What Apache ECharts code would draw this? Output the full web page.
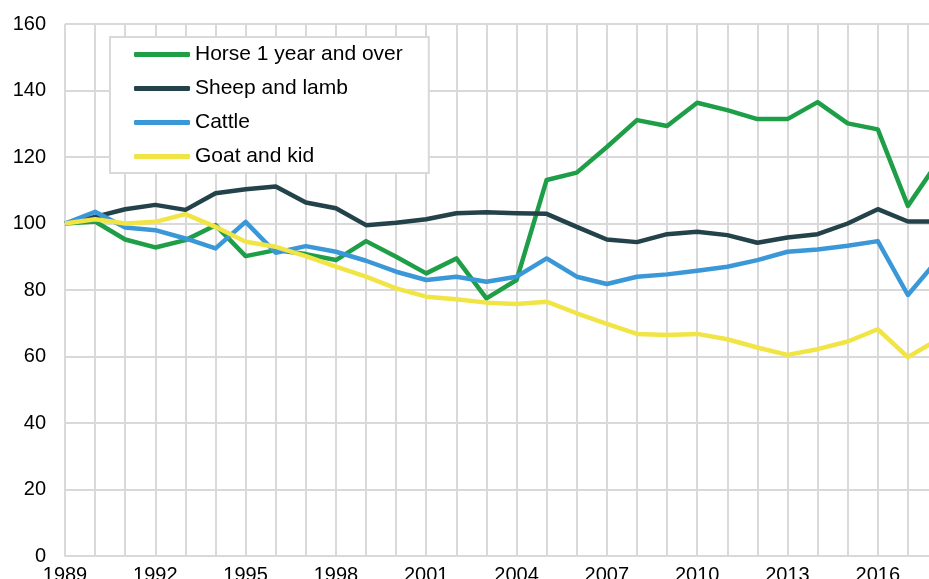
<!DOCTYPE html>
<html>
<head>
<meta charset="utf-8">
<script src="https://cdn.jsdelivr.net/npm/echarts@6/dist/echarts.min.js"></script>
<style>
  html, body { margin: 0; padding: 0; overflow: hidden; background: #fff; }
  #chart { width: 960px; height: 579px; }
</style>
</head>
<body>
<div id="chart"></div>
<script>
const years = [];
for (let y = 1989; y <= 2018; y++) years.push(String(y));

const horse = [100, 100.6, 95.2, 92.8, 95.0, 99.5, 90.2, 92.0, 90.8, 89.0,
  94.7, 90.0, 85.0, 89.5, 77.5, 83.0, 113.1, 115.3, 123.0, 131.1,
  129.3, 136.3, 134.1, 131.4, 131.4, 136.5, 130.1, 128.3, 105.3, 118.6];
const sheep = [100, 102.0, 104.3, 105.6, 104.1, 109.1, 110.3, 111.1, 106.3, 104.6,
  99.5, 100.2, 101.3, 103.1, 103.4, 103.1, 102.9, 99.0, 95.2, 94.4,
  96.8, 97.5, 96.5, 94.2, 95.8, 96.8, 100.0, 104.3, 100.6, 100.6];
const cattle = [100, 103.5, 98.8, 98.0, 95.5, 92.5, 100.5, 91.2, 93.2, 91.5,
  88.8, 85.5, 83.0, 84.0, 82.5, 84.0, 89.5, 84.0, 81.8, 84.0,
  84.7, 85.8, 87.0, 89.0, 91.5, 92.2, 93.3, 94.7, 78.5, 89.2];
const goat = [100, 101.3, 100.0, 100.5, 102.8, 99.0, 94.5, 93.0, 90.2, 87.0,
  84.0, 80.5, 78.0, 77.2, 76.2, 75.8, 76.5, 73.0, 69.8, 66.8,
  66.5, 66.8, 65.2, 62.7, 60.5, 62.2, 64.5, 68.2, 59.8, 65.1];

const seriesNames = ["Horse 1 year and over", "Sheep and lamb", "Cattle", "Goat and kid"];
const seriesColors = ["#1f9e48", "#24424a", "#3b98d8", "#f1e445"];
const seriesData = [horse, sheep, cattle, goat];

const font = "'Liberation Sans', Arial, sans-serif";

const chart = echarts.init(document.getElementById("chart"));
chart.setOption({
  animation: false,
  grid: { left: 65, right: 22, top: 24, bottom: 23, containLabel: false, outerBoundsMode: "none" },
  legend: {
    orient: "vertical",
    left: 110,
    top: 37,
    padding: [7, 26, 6, 24],
    backgroundColor: "#fff",
    borderColor: "#d9d9d9",
    borderWidth: 2,
    icon: "roundRect",
    itemWidth: 56,
    itemHeight: 5,
    itemGap: 13,
    textStyle: { fontSize: 21, lineHeight: 21, color: "#000", fontFamily: font },
    data: seriesNames
  },
  xAxis: {
    type: "category",
    data: years,
    boundaryGap: false,
    axisLine: { lineStyle: { color: "#d9d9d9", width: 2 } },
    axisTick: { show: false },
    axisLabel: { interval: 2, margin: 9, fontSize: 20, color: "#000", fontFamily: font },
    splitLine: { show: true, interval: 0, lineStyle: { color: "#d9d9d9", width: 2 } }
  },
  yAxis: {
    type: "value",
    min: 0,
    max: 160,
    interval: 20,
    axisLine: { show: false },
    axisTick: { show: false },
    axisLabel: { margin: 19, fontSize: 20, color: "#000", fontFamily: font },
    splitLine: { lineStyle: { color: "#d9d9d9", width: 2 } }
  },
  series: seriesNames.map((name, i) => ({
    name: name,
    type: "line",
    data: seriesData[i],
    symbol: "none",
    color: seriesColors[i],
    lineStyle: { width: 4.5, color: seriesColors[i], join: "round" }
  }))
});
</script>
</body>
</html>
